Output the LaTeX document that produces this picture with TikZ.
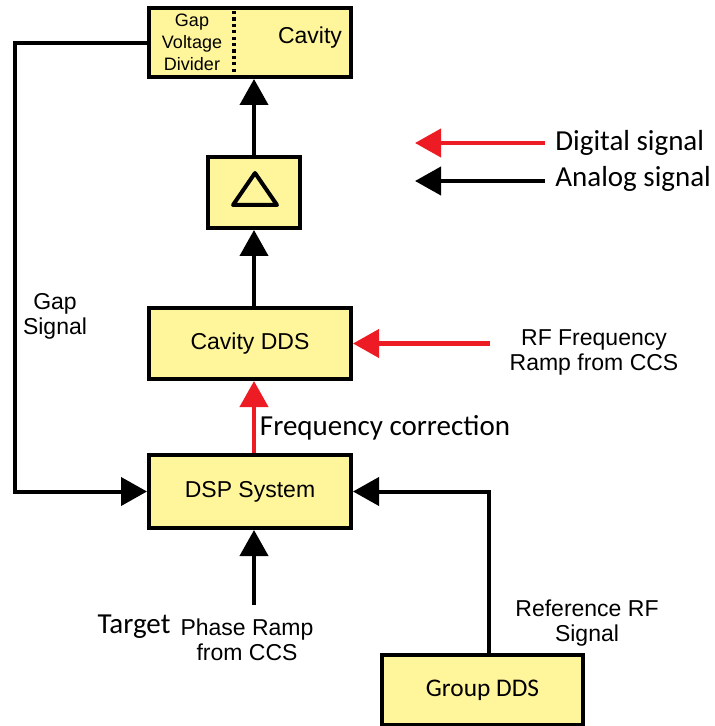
\documentclass[tikz,border=0pt]{standalone}
\usepackage{fontspec}
\setmainfont{Liberation Sans}
\newfontfamily\calfont{Carlito}
\usetikzlibrary{arrows.meta}
\definecolor{boxfill}{RGB}{255,246,155}
\definecolor{sigred}{RGB}{237,28,36}

\begin{document}
\begin{tikzpicture}[x=0.5pt,y=-0.5pt,
		box/.style={draw, line width=2pt, fill=boxfill, inner sep=0pt, font=\fontsize{11.5}{12.5}\selectfont},
		sig/.style={line width=2pt, -{Triangle[length=13pt,width=14pt]}},
		dig/.style={sig, draw=sigred, -{Triangle[length=13pt,width=14pt,fill=sigred]}},
		lbl/.style={align=center, font=\fontsize{11.5}{12.5}\selectfont, inner sep=0pt},
		cal/.style={inner sep=0pt, font=\calfont\fontsize{14.5}{16}\selectfont}]
		\useasboundingbox (0,0) rectangle (715,726);
		
		% boxes
		\node (cav) at (250,42.5) [box, minimum width=101pt, minimum height=34.5pt] {};
		\node (amp) at (254,192.5) [box, minimum width=46pt, minimum height=35.5pt] {};
		\node (cdds) at (250,343.5) [box, minimum width=101pt, minimum height=35.5pt] {Cavity DDS};
		\node (dsp) at (250,491.5) [box, minimum width=101pt, minimum height=36.5pt] {DSP System};
		\node (grp) at (482.5,690) [box, minimum width=100.5pt, minimum height=35pt, font=\calfont\fontsize{12.7}{14}\selectfont] {Group DDS};
		
		% inside the cavity box
		\node (gvd) at (192,42) [align=center, inner sep=0pt, font=\fontsize{9}{11}\selectfont] {Gap\\Voltage\\Divider};
		\node (cavtxt) at (310,38) [lbl] {Cavity};
		\draw[line width=1.6pt, dash pattern=on 1.6pt off 1.6pt] (234,11) -- (234,76);
		
		% amplifier symbol
		\draw[line width=2pt, line join=round] (255,173) -- (233,205) -- (277,205) -- cycle;
		
		% signal paths
		\draw[sig] (cdds.north -| amp.center) -- (amp.south);
		\draw[sig] (amp.north) -- (cav.south -| amp.center);
		\draw[dig] (dsp.north -| amp.center) -- (cdds.south -| amp.center);
		
		\coordinate (tgt) at (254,605);
		\draw[sig] (tgt) -- (dsp.south -| tgt);
		
		\coordinate (gapc) at (15,43);
		\draw[sig] (cav.west |- gapc) -- (gapc) |- (dsp.west);
		
		\coordinate (refc) at (489,491.5);
		\draw[sig] (grp.north -| refc) -- (refc) -- (dsp.east);
		
		\coordinate (rfsrc) at (490,343.5);
		\draw[dig] (rfsrc) -- (cdds.east);
		
		% labels
		\node (gaplbl) at (55,316) [lbl] {Gap\\Signal};
		\node (rflbl) at (594,352) [lbl] {RF Frequency\\Ramp from CCS};
		\node (reflbl) at (587,623) [lbl] {Reference RF\\Signal};
		\node (phlbl) at (247,640) [lbl] {Phase Ramp\\from CCS};
		\node (tgtlbl) at (134,627) [cal] {Target};
		\node (fclbl) at (385,428) [cal] {Frequency correction};
		
		% legend
		\node (digtxt) at (555,143) [cal, anchor=west] {Digital signal};
		\node (anatxt) at (555,179) [cal, anchor=west] {Analog signal};
		\coordinate (digend) at (415,143);
		\coordinate (anaend) at (415,181);
		\draw[dig] (545,143) -- (digend);
		\draw[sig] (545,181) -- (anaend);
		
	\end{tikzpicture}
\end{document}
